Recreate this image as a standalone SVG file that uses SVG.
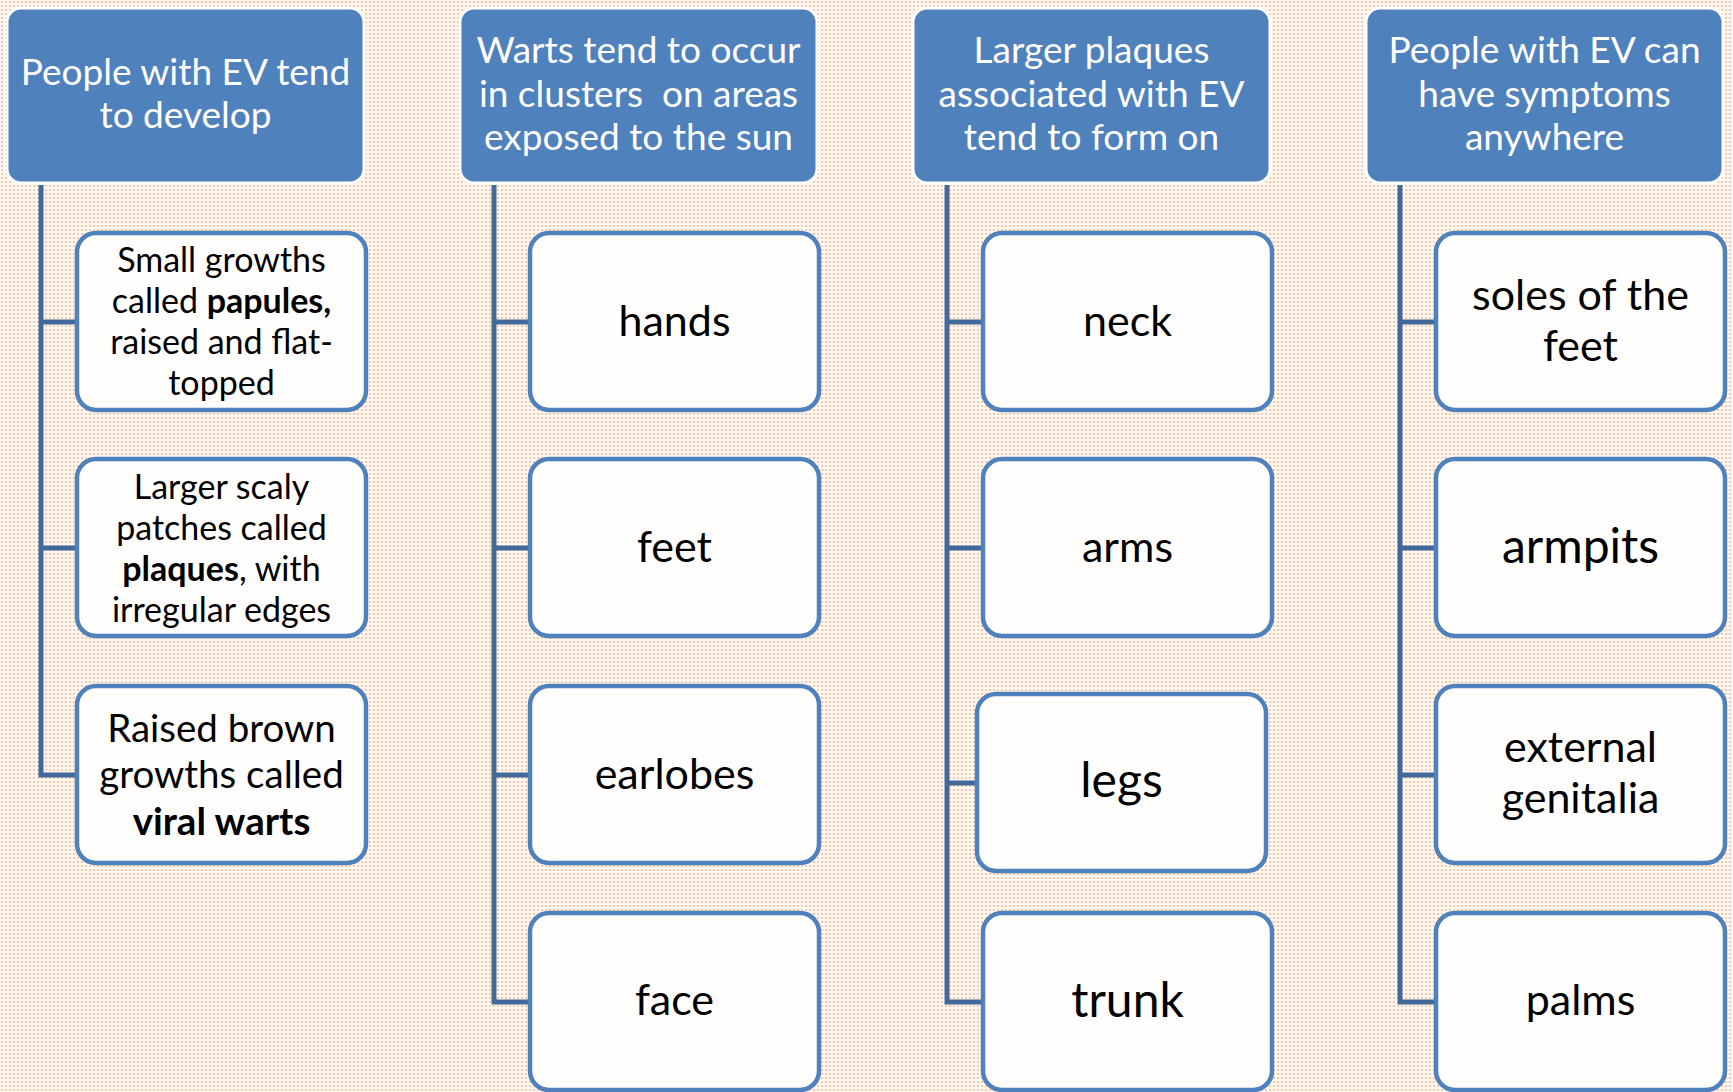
<svg xmlns="http://www.w3.org/2000/svg" width="1733" height="1092" viewBox="0 0 1733 1092">
<defs>
<pattern id="dots" width="4" height="4" patternUnits="userSpaceOnUse">
<rect width="4" height="4" fill="#FFF8F2"/>
<circle cx="2" cy="2" r="1.1" fill="#F8BE94"/>
</pattern>
<style>
.hdr rect{fill:#4F81BD;stroke:#FFFFFF;stroke-width:3}
.hdr text{fill:#FFFFFF;font-family:Lato,"Liberation Sans",sans-serif;font-size:37px;text-anchor:middle}
.box rect{fill:#FFFEFD;stroke:#4F81BD;stroke-width:4.5}
.box text{fill:#000000;font-family:Lato,"Liberation Sans",sans-serif;text-anchor:middle}
.s34{font-size:34px}
.s39{font-size:38.5px}
.s43{font-size:43px}
.s48{font-size:48px}
.b{font-weight:700}
.conn path{fill:none;stroke:#41699C;stroke-width:5;stroke-linejoin:miter}
</style>
</defs>
<rect width="1733" height="1092" fill="url(#dots)"/>

<g class="conn" id="connectors">
<path d="M41 185 V775 H77 M41 322 H77 M41 548 H77"/>
<path d="M494 185 V1002 H530 M494 322 H530 M494 548 H530 M494 775 H530"/>
<path d="M947 185 V1002 H983 M947 322 H983 M947 548 H983 M947 783 H977"/>
<path d="M1400 185 V1002 H1436 M1400 322 H1436 M1400 548 H1436 M1400 775 H1436"/>
</g>

<g class="hdr" id="h1"><rect x="7" y="8" width="357" height="175" rx="14"/>
<text x="185.5" y="85">People with EV tend</text><text x="185.5" y="128">to develop</text></g>
<g class="hdr" id="h2"><rect x="460" y="8" width="357" height="175" rx="14"/>
<text x="638.5" y="63">Warts tend to occur</text><text x="638.5" y="107" xml:space="preserve">in clusters  on areas</text><text x="638.5" y="150">exposed to the sun</text></g>
<g class="hdr" id="h3"><rect x="913" y="8" width="357" height="175" rx="14"/>
<text x="1091.5" y="63">Larger plaques</text><text x="1091.5" y="107">associated with EV</text><text x="1091.5" y="150">tend to form on</text></g>
<g class="hdr" id="h4"><rect x="1366" y="8" width="357" height="175" rx="14"/>
<text x="1544.5" y="63">People with EV can</text><text x="1544.5" y="107">have symptoms</text><text x="1544.5" y="150">anywhere</text></g>

<g class="box" id="c1r1"><rect x="77" y="233" width="289" height="177" rx="19"/>
<text class="s34" x="221.5" y="272">Small growths</text>
<text class="s34" x="221.5" y="313">called <tspan class="b">papules,</tspan></text>
<text class="s34" x="221.5" y="354">raised and flat-</text>
<text class="s34" x="221.5" y="395">topped</text></g>
<g class="box" id="c1r2"><rect x="77" y="459" width="289" height="177" rx="19"/>
<text class="s34" x="221.5" y="499">Larger scaly</text>
<text class="s34" x="221.5" y="540">patches called</text>
<text class="s34" x="221.5" y="581"><tspan class="b">plaques</tspan>, with</text>
<text class="s34" x="221.5" y="622">irregular edges</text></g>
<g class="box" id="c1r3"><rect x="77" y="686" width="289" height="177" rx="19"/>
<text class="s39" x="221.5" y="742">Raised brown</text>
<text class="s39" x="221.5" y="788">growths called</text>
<text class="s39 b" x="221.5" y="835">viral warts</text></g>

<g class="box" id="c2r1"><rect x="530" y="233" width="289" height="177" rx="19"/><text class="s43" x="674.5" y="336">hands</text></g>
<g class="box" id="c2r2"><rect x="530" y="459" width="289" height="177" rx="19"/><text class="s43" x="674.5" y="562">feet</text></g>
<g class="box" id="c2r3"><rect x="530" y="686" width="289" height="177" rx="19"/><text class="s43" x="674.5" y="789">earlobes</text></g>
<g class="box" id="c2r4"><rect x="530" y="913" width="289" height="177" rx="19"/><text class="s43" x="674.5" y="1015">face</text></g>

<g class="box" id="c3r1"><rect x="983" y="233" width="289" height="177" rx="19"/><text class="s43" x="1127.5" y="336">neck</text></g>
<g class="box" id="c3r2"><rect x="983" y="459" width="289" height="177" rx="19"/><text class="s43" x="1127.5" y="562">arms</text></g>
<g class="box" id="c3r3"><rect x="977" y="694" width="289" height="177" rx="19"/><text class="s48" x="1121.5" y="797">legs</text></g>
<g class="box" id="c3r4"><rect x="983" y="913" width="289" height="177" rx="19"/><text class="s48" x="1127.5" y="1017">trunk</text></g>

<g class="box" id="c4r1"><rect x="1436" y="233" width="289" height="177" rx="19"/>
<text class="s43" x="1580.5" y="310">soles of the</text><text class="s43" x="1580.5" y="361">feet</text></g>
<g class="box" id="c4r2"><rect x="1436" y="459" width="289" height="177" rx="19"/><text class="s48" x="1580.5" y="563">armpits</text></g>
<g class="box" id="c4r3"><rect x="1436" y="686" width="289" height="177" rx="19"/>
<text class="s43" x="1580.5" y="762">external</text><text class="s43" x="1580.5" y="813">genitalia</text></g>
<g class="box" id="c4r4"><rect x="1436" y="913" width="289" height="177" rx="19"/><text class="s43" x="1580.5" y="1015">palms</text></g>
</svg>
